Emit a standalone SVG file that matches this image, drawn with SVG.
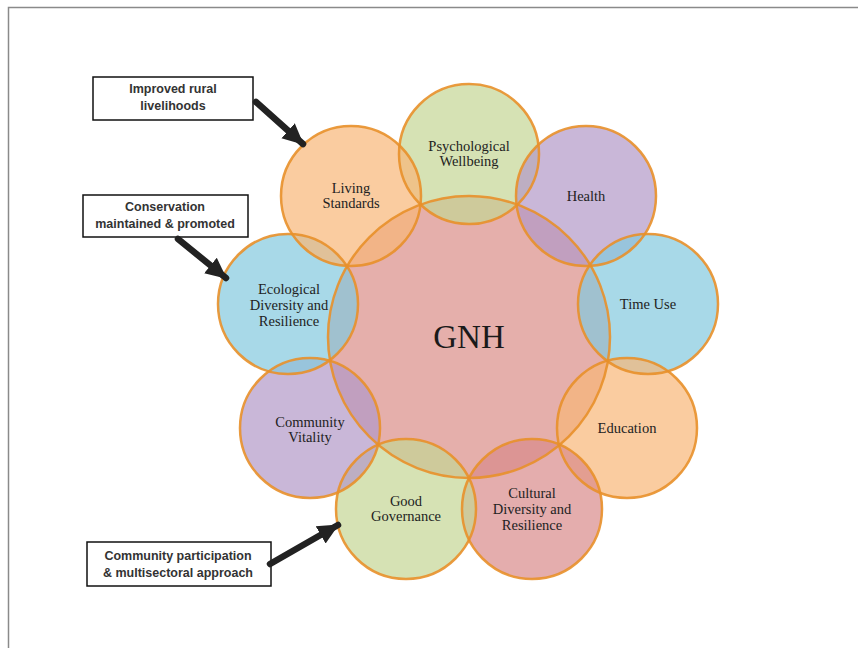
<svg xmlns="http://www.w3.org/2000/svg" width="858" height="648" viewBox="0 0 858 648">
<style>
.c{stroke:none;fill-opacity:0.7}
.o{fill:none;stroke:#E8902A;stroke-width:2.5;stroke-opacity:0.9}
.lbl{font-family:"Liberation Serif","Times New Roman",serif;font-size:14.5px;fill:#222;text-anchor:middle}
.box{fill:#fff;stroke:#111;stroke-width:1.5}
.bt{font-family:"Liberation Sans",Arial,sans-serif;font-weight:bold;font-size:12.5px;fill:#333;text-anchor:middle}
.arr{stroke:#222;stroke-width:6.5;stroke-linecap:round;fill:none}
</style>
<defs>
<marker id="ah" markerUnits="userSpaceOnUse" markerWidth="22" markerHeight="22" viewBox="0 0 22 22" refX="20" refY="11" orient="auto">
<path d="M0,1 L21,11 L0,21 z" fill="#222"/>
</marker>
</defs>
<rect width="858" height="648" fill="#fff"/>
<path d="M8.5,648 V7.5 H858" fill="none" stroke="#8a8a8a" stroke-width="1.5"/>
<g id="gnh"><circle class="c" cx="469" cy="337" r="141" fill="#DA8D88"/><text x="469" y="348" style="font-family:'Liberation Serif','Times New Roman',serif;font-size:33px;fill:#1a1a1a;text-anchor:middle">GNH</text></g>
<g id="psychological"><circle class="c" cx="469" cy="154" r="70" fill="#C4D694"/><text class="lbl" x="469" y="151">Psychological</text><text class="lbl" x="469" y="166">Wellbeing</text></g>
<g id="health"><circle class="c" cx="586" cy="196" r="70" fill="#B298C7"/><text class="lbl" x="586" y="201">Health</text></g>
<g id="timeuse"><circle class="c" cx="648" cy="304" r="70" fill="#83C9DE"/><text class="lbl" x="648" y="309">Time Use</text></g>
<g id="education"><circle class="c" cx="627" cy="428" r="70" fill="#F8B677"/><text class="lbl" x="627" y="433">Education</text></g>
<g id="cultural"><circle class="c" cx="532" cy="509" r="70" fill="#D98A8A"/><text class="lbl" x="532" y="498">Cultural</text><text class="lbl" x="532" y="514">Diversity and</text><text class="lbl" x="532" y="530">Resilience</text></g>
<g id="governance"><circle class="c" cx="406" cy="509" r="70" fill="#C4D694"/><text class="lbl" x="406" y="506">Good</text><text class="lbl" x="406" y="521">Governance</text></g>
<g id="community"><circle class="c" cx="310" cy="428" r="70" fill="#B298C7"/><text class="lbl" x="310" y="427">Community</text><text class="lbl" x="310" y="442">Vitality</text></g>
<g id="ecological"><circle class="c" cx="288" cy="304" r="70" fill="#83C9DE"/><text class="lbl" x="289" y="294">Ecological</text><text class="lbl" x="289" y="310">Diversity and</text><text class="lbl" x="289" y="326">Resilience</text></g>
<g id="living"><circle class="c" cx="351" cy="196" r="70" fill="#F8B677"/><text class="lbl" x="351" y="193">Living</text><text class="lbl" x="351" y="208">Standards</text></g>
<g id="outlines">
<circle class="o" cx="469" cy="337" r="141"/>
<circle class="o" cx="469" cy="154" r="70"/>
<circle class="o" cx="586" cy="196" r="70"/>
<circle class="o" cx="648" cy="304" r="70"/>
<circle class="o" cx="627" cy="428" r="70"/>
<circle class="o" cx="532" cy="509" r="70"/>
<circle class="o" cx="406" cy="509" r="70"/>
<circle class="o" cx="310" cy="428" r="70"/>
<circle class="o" cx="288" cy="304" r="70"/>
<circle class="o" cx="351" cy="196" r="70"/>
</g>
<g id="box-rural"><rect class="box" x="93" y="77" width="160" height="43"/><text class="bt" x="173" y="93">Improved rural</text><text class="bt" x="173" y="110">livelihoods</text></g>
<g id="box-conservation"><rect class="box" x="83" y="195" width="165" height="42"/><text class="bt" x="165" y="211">Conservation</text><text class="bt" x="165" y="228">maintained &amp; promoted</text></g>
<g id="box-community"><rect class="box" x="87" y="542" width="184" height="44"/><text class="bt" x="178" y="560">Community participation</text><text class="bt" x="178" y="577">&amp; multisectoral approach</text></g>
<g id="connectors">
<line class="arr" x1="256" y1="102" x2="303" y2="144" marker-end="url(#ah)"/>
<line class="arr" x1="178" y1="239" x2="226" y2="278" marker-end="url(#ah)"/>
<line class="arr" x1="270" y1="564" x2="338" y2="525" marker-end="url(#ah)"/>
</g>
</svg>
